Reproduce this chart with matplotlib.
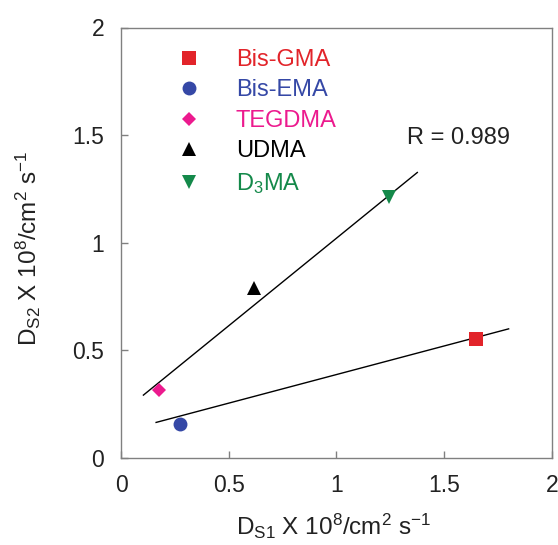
import matplotlib
matplotlib.use("Agg")
import matplotlib.pyplot as plt
from matplotlib.lines import Line2D

plt.rcParams['font.family'] = ['Liberation Sans', 'DejaVu Sans']
plt.rcParams['mathtext.default'] = 'regular'

# Data
names = ['Bis-GMA', 'Bis-EMA', 'TEGDMA', 'UDMA', 'D$_3$MA']
ds1 = [1.647, 0.274, 0.178, 0.619, 1.243]
ds2 = [0.551, 0.156, 0.313, 0.790, 1.211]
markers = ['s', 'o', 'D', '^', 'v']
colors = ['#E2242A', '#3548A6', '#EC1A8E', '#000000', '#14894A']
msizes = [10, 10, 7.5, 10.5, 10.5]

# Fit lines (endpoints)
fit_low_x = [0.163, 1.80]
fit_low_y = [0.164, 0.599]
fit_up_x = [0.104, 1.376]
fit_up_y = [0.291, 1.326]
r_text = 'R = 0.989'
r_pos = (1.565, 1.485)

xticks = [0, 0.5, 1, 1.5, 2]
yticks = [0, 0.5, 1, 1.5, 2]

fig = plt.figure(figsize=(5.58, 5.45), dpi=100)
ax = fig.add_axes([121/558, 1-457.7/545, (551.7-121)/558, (457.7-27.5)/545])

ax.plot(fit_low_x, fit_low_y, color='black', lw=1.0)
ax.plot(fit_up_x, fit_up_y, color='black', lw=1.0)

handles = []
for x, y, m, c, s, n in zip(ds1, ds2, markers, colors, msizes, names):
    ax.plot([x], [y], linestyle='none', marker=m, color=c, markersize=s,
            markeredgewidth=0, zorder=3)
    handles.append(Line2D([], [], linestyle='none', marker=m, color=c,
                          markerfacecolor=c, markersize=s, markeredgewidth=0, label=n))

ax.text(r_pos[0], r_pos[1], r_text, fontsize=17, color='#222222', ha='center', va='center')

leg = ax.legend(handles=handles, loc='upper left',
                frameon=False, fontsize=17, labelcolor='markerfacecolor',
                handlelength=1.0, handletextpad=1.5, labelspacing=0.36,
                borderpad=0.0)
leg.set_bbox_to_anchor((165/558, 1 - 37/545), transform=fig.transFigure)

ax.set_xlim(0, 2)
ax.set_ylim(0, 2)
ax.set_xticks(xticks)
ax.set_yticks(yticks)
ax.set_xticklabels(['%g' % t for t in xticks])
ax.set_yticklabels(['%g' % t for t in yticks])
ax.tick_params(direction='in', length=5, width=1, color='#808080',
               labelsize=16.5, pad=12, labelcolor='#222222')
for sp in ax.spines.values():
    sp.set_color('#808080')
    sp.set_linewidth(1.0)

fig.text(334/558, 1 - 535/545, r'D$_{S1}$ X 10$^{8}$/cm$^{2}$ s$^{-1}$',
         fontsize=17.5, ha='center', va='baseline', color='#222222')
fig.text(37/558, 1 - 248/545, r'D$_{S2}$ X 10$^{8}$/cm$^{2}$ s$^{-1}$',
         fontsize=17.5, ha='center', va='baseline', rotation=90,
         rotation_mode='anchor', color='#222222')

fig.savefig('out.png', dpi=100)
